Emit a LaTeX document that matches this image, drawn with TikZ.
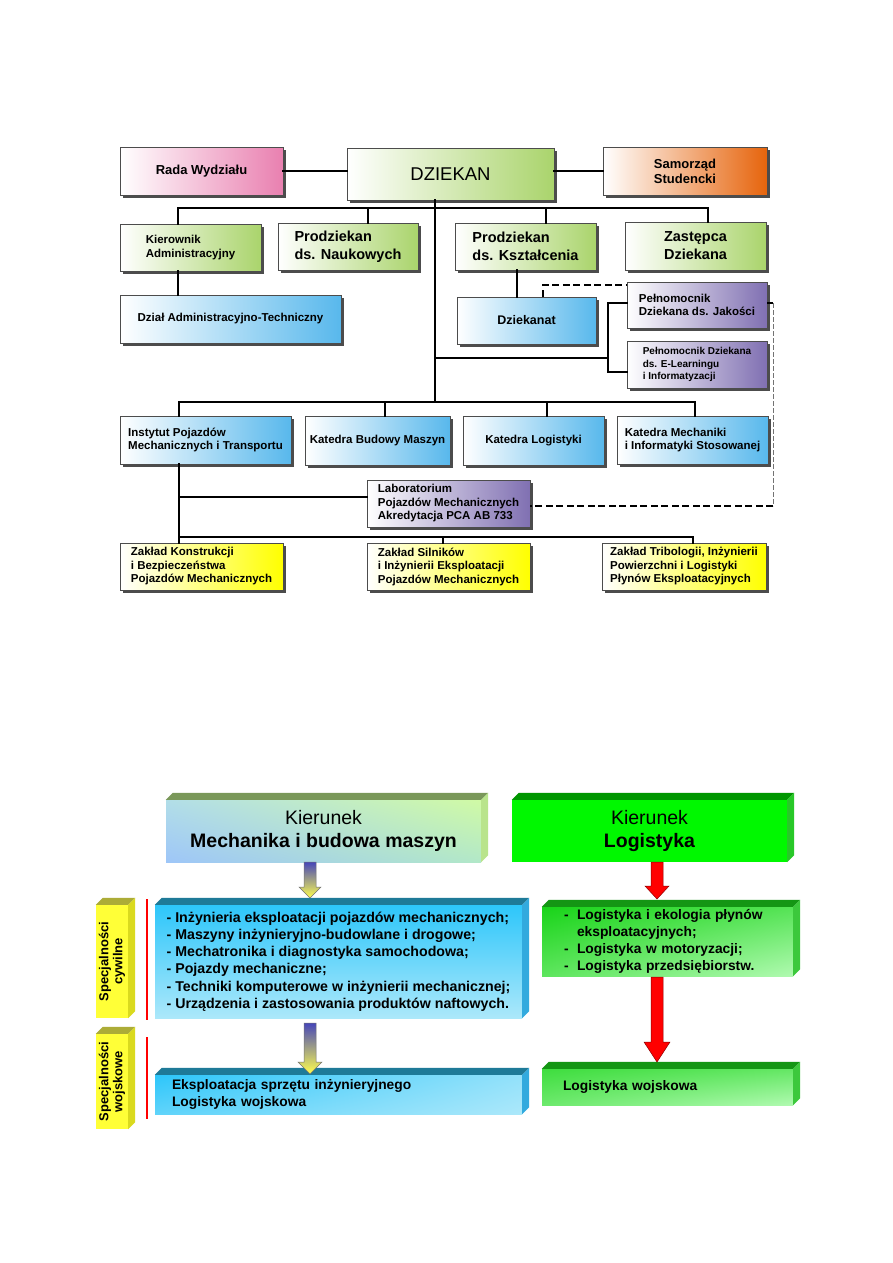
\documentclass[tikz,border=0pt]{standalone}
\usepackage{fontspec}
\setmainfont{Liberation Sans}
\usetikzlibrary{shadows,shadings}

\definecolor{deanGreen}{RGB}{170,212,108}
\definecolor{councilPink}{RGB}{233,128,176}
\definecolor{unionOrange}{RGB}{230,100,12}
\definecolor{unitBlue}{RGB}{88,184,236}
\definecolor{proxyViolet}{RGB}{128,112,178}
\definecolor{chairYellow}{RGB}{255,255,0}
\definecolor{mbmBlue}{RGB}{158,198,248}
\definecolor{mbmCyan}{RGB}{178,222,232}
\definecolor{mbmLime}{RGB}{208,250,165}
\definecolor{mbmSea}{RGB}{178,232,200}
\definecolor{mbmTop}{RGB}{122,152,90}
\definecolor{mbmSide}{RGB}{185,228,140}
\definecolor{logGreen}{RGB}{0,248,0}
\definecolor{logTop}{RGB}{0,150,0}
\definecolor{logSide}{RGB}{40,200,40}
\definecolor{civBlue}{RGB}{45,198,250}
\definecolor{civPale}{RGB}{172,232,250}
\definecolor{civTop}{RGB}{30,122,152}
\definecolor{civSide}{RGB}{50,170,222}
\definecolor{civGreen}{RGB}{25,212,25}
\definecolor{civMint}{RGB}{176,250,176}
\definecolor{civGTop}{RGB}{20,150,20}
\definecolor{civGSide}{RGB}{60,200,60}
\definecolor{tagYellow}{RGB}{255,255,55}
\definecolor{tagTop}{RGB}{172,172,55}
\definecolor{tagSide}{RGB}{218,218,30}

\begin{document}
\begin{tikzpicture}[
        x=1pt, y=-1pt,
        line cap=rect,
        unit/.style={draw=black!70, line width=0.6pt, left color=white, align=left,
            inner sep=1pt, font=\bfseries\fontsize{11.5}{13.5}\selectfont,
            drop shadow={shadow xshift=2.5pt, shadow yshift=-2.5pt, fill=black!70, opacity=1}},
        green unit/.style={unit, right color=deanGreen},
        pink unit/.style={unit, right color=councilPink},
        orange unit/.style={unit, right color=unionOrange},
        blue unit/.style={unit, right color=unitBlue},
        violet unit/.style={unit, right color=proxyViolet},
        yellow unit/.style={unit, right color=chairYellow},
        box size/.style 2 args={minimum width=#1pt, minimum height=#2pt},
        big text/.style={font=\bfseries\fontsize{14.5}{18}\selectfont},
        tree/.style={line width=2.9pt},
        link/.style={line width=2.6pt, line cap=butt, dash pattern=on 7pt off 3.5pt},
        link thin/.style={line width=1pt, line cap=butt, black!55, dash pattern=on 5pt off 2pt},
        slab/.style={inner sep=0pt, align=left, font=\bfseries\fontsize{13.8}{17.2}\selectfont},
        tag/.style={inner sep=0pt, fill=tagYellow, box size={32}{#1}},
        tag text/.style={rotate=90, align=center, inner sep=0pt, font=\bfseries\fontsize{13}{14}\selectfont},
        mbm arrow/.style={draw=black!55, line width=0.5pt, top color=mbmArrowTop, bottom color=mbmArrowLow},
        red arrow/.style={draw=red!55!black, line width=0.5pt, fill=red},
        accent/.style={red, line width=2pt},
    ]
    \colorlet{mbmArrowTop}{blue!45!gray}
    \colorlet{mbmArrowLow}{yellow!70!white}

    \useasboundingbox (0,0) rectangle (893,1263);
    \fill[white] (0,0) rectangle (893,1263);

    % ---- organisational chart ----
    \node[pink unit, box size={163}{48}, font=\bfseries\fontsize{13}{15}\selectfont] (rada) at (201.5,171) {Rada Wydziału};
    \node[green unit, box size={207}{52}, font=\fontsize{18.5}{20}\selectfont] (dziekan) at (450.5,174) {DZIEKAN};
    \node[orange unit, box size={164}{48}, font=\bfseries\fontsize{13}{15}\selectfont] (samorzad) at (685,171) {Samorząd\\Studencki};

    \node[green unit, box size={141}{47}] (kier) at (190.5,247.5) {Kierownik\\Administracyjny};
    \node[green unit, box size={140}{47}, big text] (prodN) at (348,246.5) {Prodziekan\\ds. Naukowych};
    \node[green unit, box size={141}{47}, big text] (prodK) at (525.5,246.5) {Prodziekan\\ds. Kształcenia};
    \node[green unit, box size={141}{48}, big text] (zast) at (695.5,246) {Zastępca\\Dziekana};

    \node[blue unit, box size={221}{48}] (dzial) at (230.5,319) {Dział Administracyjno-Techniczny};
    \node[blue unit, box size={139}{47}, font=\bfseries\fontsize{12.5}{14}\selectfont] (dziekanat) at (526.5,320.5) {Dziekanat};
    \node[violet unit, box size={140}{46}] (pelJ) at (697,305) {Pełnomocnik\\Dziekana ds. Jakości};
    \node[violet unit, box size={140}{47}, font=\bfseries\fontsize{10}{12.5}\selectfont] (pelE) at (697,364.5) {Pełnomocnik Dziekana\\ds. E-Learningu\\i Informatyzacji};

    \node[blue unit, box size={171}{48}] (inst) at (205.5,440) {Instytut Pojazdów\\Mechanicznych i Transportu};
    \node[blue unit, box size={145}{49}] (katB) at (377.5,440.5) {Katedra Budowy Maszyn};
    \node[blue unit, box size={141}{49}] (katL) at (533.5,440.5) {Katedra Logistyki};
    \node[blue unit, box size={151}{48}] (katM) at (692.5,440) {Katedra Mechaniki\\i Informatyki Stosowanej};

    \node[violet unit, box size={163}{47}] (lab) at (448.5,503.5) {Laboratorium\\Pojazdów Mechanicznych\\Akredytacja PCA AB 733};

    \node[yellow unit, box size={163}{47}] (zakK) at (201.5,566.5) {Zakład Konstrukcji\\i Bezpieczeństwa\\Pojazdów Mechanicznych};
    \node[yellow unit, box size={163}{47}] (zakS) at (448.5,566.5) {Zakład Silników\\i Inżynierii Eksploatacji\\Pojazdów Mechanicznych};
    \node[yellow unit, box size={164}{47}] (zakT) at (684,566.5) {Zakład Tribologii, Inżynierii\\Powierzchni i Logistyki\\Płynów Eksploatacyjnych};

    % junctions on the buses
    \coordinate (jKier) at (178,208);
    \coordinate (jProdN) at (368,208);
    \coordinate (jDean) at (435,208);
    \coordinate (jProdK) at (546,208);
    \coordinate (jZast) at (708,208);
    \coordinate (jBrack) at (608,358);
    \coordinate (jInst) at (179,402);
    \coordinate (jKatB) at (385,402);
    \coordinate (jKatL) at (547,402);
    \coordinate (jKatM) at (695,402);
    \coordinate (jZakS) at (443,537);
    \coordinate (jZakT) at (693,537);
    \coordinate (jDashR) at (773,303);
    \coordinate (jDashB) at (773,506);

    \draw[tree] (rada.east) -- (rada.east -| dziekan.west);
    \draw[tree] (samorzad.west -| dziekan.east) -- (samorzad.west);
    \draw[tree] (dziekan.south -| jDean) -- (jDean |- jInst);
    \draw[tree] (jKier) -- (jZast);
    \foreach \j/\n in {jKier/kier, jProdN/prodN, jProdK/prodK, jZast/zast}
        \draw[tree] (\j) -- (\j |- \n.north);
    \draw[tree] (kier.south -| jKier) -- (dzial.north -| jKier);
    \draw[tree] ([xshift=-9.5pt]dziekanat.north |- prodK.south) -- ([xshift=-9.5pt]dziekanat.north);
    \draw[tree] (jDean |- jBrack) -- (jBrack);
    \draw[tree] ([yshift=2pt]pelJ.west) -| (jBrack) |- ([yshift=-7.5pt]pelE.west);

    % dashed supervision links
    \draw[link] ([xshift=16.5pt]dziekanat.north) |- ([yshift=20pt]pelJ.west);
    \draw[link] ([yshift=2pt]pelJ.east) -- (jDashR);
    \draw[link thin] (jDashR) -- (jDashB);
    \draw[link] (jDashB) -- (lab.east |- jDashB);

    \draw[tree] (jInst) -- (jKatM);
    \foreach \j/\n in {jInst/inst, jKatB/katB, jKatL/katL, jKatM/katM}
        \draw[tree] (\j) -- (\j |- \n.north);
    \draw[tree] (inst.south -| jInst) -- (zakK.north -| jInst);
    \draw[tree] ([yshift=6.5pt]lab.west -| jInst) -- ([yshift=6.5pt]lab.west);
    \draw[tree] (jInst |- jZakS) -- (jZakT);
    \draw[tree] (jZakS) -- (jZakS |- zakS.north);
    \draw[tree] (jZakT) -- (jZakT |- zakT.north);

    % ---- study programmes ----
    \node[slab, box size={315}{62}, align=center, font=\fontsize{19.5}{23}\selectfont,
        upper left=mbmCyan, upper right=mbmLime, lower left=mbmBlue, lower right=mbmSea]
        (kmbm) at (323.5,831) {Kierunek\\\textbf{Mechanika i budowa maszyn}};
    \node[slab, box size={275}{62}, align=center, font=\fontsize{19.5}{23}\selectfont, fill=logGreen]
        (klog) at (649.5,831) {Kierunek\\\textbf{Logistyka}};

    \node[slab, box size={367}{113}, top color=civBlue, bottom color=civPale,
        font=\bfseries\fontsize{14.2}{17.2}\selectfont]
        (cyw) at (338.5,961.5) {- Inżynieria eksploatacji pojazdów mechanicznych;\\
        - Maszyny inżynieryjno-budowlane i drogowe;\\
        - Mechatronika i diagnostyka samochodowa;\\
        - Pojazdy mechaniczne;\\
        - Techniki komputerowe w inżynierii mechanicznej;\\
        - Urządzenia i zastosowania produktów naftowych.};
    \node[slab, box size={251}{69}, text width=207pt, inner xsep=22pt,
        upper left=civGreen, upper right=civGreen!60!civMint, lower left=civGreen!55!civMint, lower right=civMint]
        (cywG) at (667.5,941.5) {\makebox[13pt][l]{-}Logistyka i ekologia płynów\\
        \hspace*{13pt}eksploatacyjnych;\\
        \makebox[13pt][l]{-}Logistyka w motoryzacji;\\
        \makebox[13pt][l]{-}Logistyka przedsiębiorstw.};

    \node[slab, box size={367}{39}, text width=333pt, inner xsep=17pt,
        upper left=civBlue, upper right=civPale!80!civBlue, lower left=civBlue!60!civPale, lower right=civPale]
        (wojB) at (338.5,1094.5) {Eksploatacja sprzętu inżynieryjnego\\Logistyka wojskowa};
    \node[slab, box size={251}{36}, text width=209pt, inner xsep=21pt,
        upper left=civGreen!75!civMint, upper right=civGreen!50!civMint, lower left=civGreen!45!civMint, lower right=civMint]
        (wojG) at (667.5,1087) {Logistyka wojskowa};

    \node[tag=113] (tagCyw) at (112,961.5) {};
    \node[tag text] (tagCywText) at (tagCyw) {Specjalności\\cywilne};
    \node[tag=95] (tagWoj) at (112,1081.5) {};
    \node[tag text] (tagWojText) at (tagWoj) {Specjalności\\wojskowe};

    % bevelled top and side faces
    \foreach \b/\t/\s in {kmbm/mbmTop/mbmSide, klog/logTop/logSide, cyw/civTop/civSide,
        cywG/civGTop/civGSide, wojB/civTop/civSide, wojG/civGTop/civGSide,
        tagCyw/tagTop/tagSide, tagWoj/tagTop/tagSide}{
        \fill[\t] (\b.north west) -- ++(7,-7) -- ([shift={(7,-7)}]\b.north east) -- (\b.north east) -- cycle;
        \fill[\s] (\b.north east) -- ++(7,-7) -- ([shift={(7,-7)}]\b.south east) -- (\b.south east) -- cycle;
    }

    \draw[accent] (147,900) -- (147,1019);
    \draw[accent] (147,1038) -- (147,1118);

    % block arrows
    \shade[mbm arrow] (304,862) -- (316,862) -- (316,887) -- (321,887) -- (310,898) -- (299,887) -- (304,887) -- cycle;
    \shade[mbm arrow] (304,1023) -- (316,1023) -- (316,1062) -- (322,1062) -- (310,1074) -- (298,1062) -- (304,1062) -- cycle;
    \filldraw[red arrow] (651,862) -- (663,862) -- (663,886) -- (669,886) -- (657,899) -- (645,886) -- (651,886) -- cycle;
    \filldraw[red arrow] (651,977) -- (663,977) -- (663,1042) -- (670,1042) -- (657,1062) -- (644,1042) -- (651,1042) -- cycle;
\end{tikzpicture}
\end{document}
